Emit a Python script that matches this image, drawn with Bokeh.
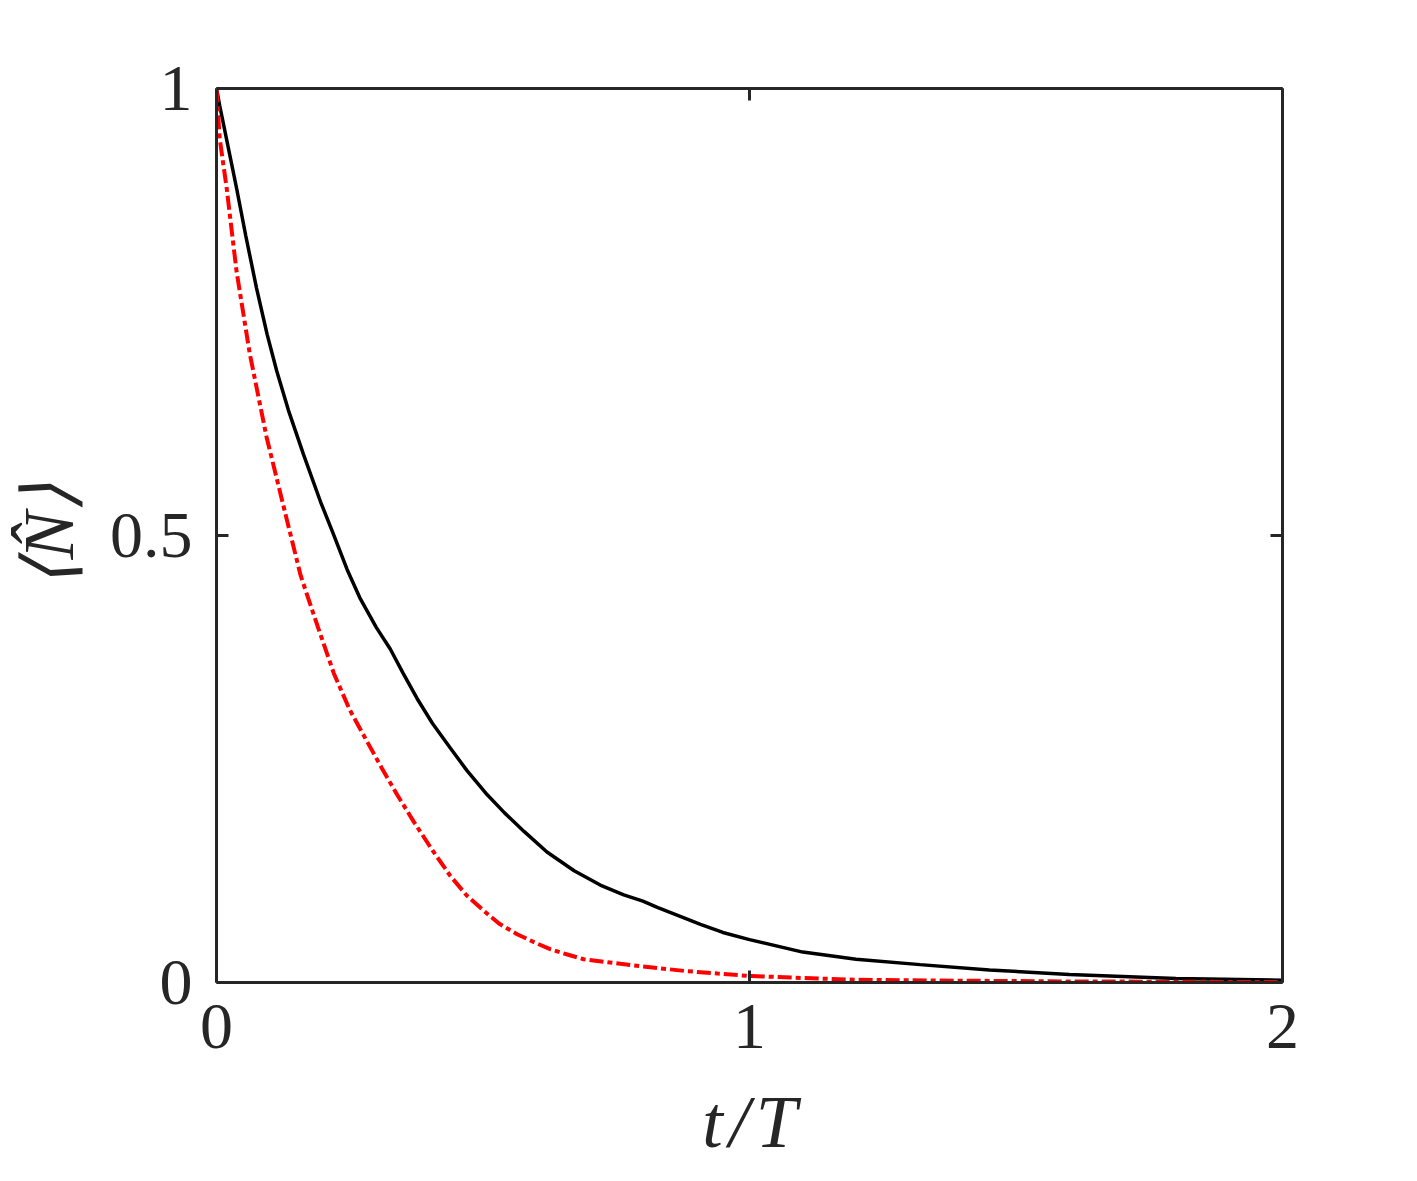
from bokeh.plotting import figure
from bokeh.models import LinearAxis, FixedTicker, Range1d
from bokeh.embed import file_html
from bokeh.resources import INLINE

# ---- data ----
t_black = [0, 0.006, 0.02, 0.0375, 0.055, 0.075, 0.095, 0.113, 0.135, 0.163, 0.195,
           0.219, 0.245, 0.27, 0.3, 0.326, 0.35, 0.376, 0.405, 0.439, 0.47, 0.508,
           0.54, 0.577, 0.62, 0.671, 0.72, 0.764, 0.8, 0.827, 0.87, 0.908, 0.95, 1.0,
           1.1, 1.2, 1.32, 1.45, 1.6, 1.8, 2.0]
n_black = [1, 0.981, 0.940, 0.889, 0.835, 0.777, 0.725, 0.684, 0.64, 0.591, 0.538,
           0.502, 0.462, 0.429, 0.397, 0.373, 0.346, 0.318, 0.29, 0.262, 0.237, 0.210,
           0.19, 0.169, 0.146, 0.125, 0.109, 0.098, 0.091, 0.084, 0.074, 0.065, 0.056,
           0.048, 0.034, 0.026, 0.020, 0.014, 0.009, 0.0045, 0.0026]

t_red = [0, 0.006, 0.019, 0.0375, 0.0625, 0.094, 0.131, 0.158, 0.19, 0.22, 0.25, 0.283,
         0.31, 0.339, 0.37, 0.405, 0.439, 0.47, 0.502, 0.53, 0.564, 0.6, 0.627, 0.66,
         0.689, 0.73, 0.783, 0.83, 0.877, 0.94, 0.995, 1.1, 1.2, 1.4, 1.6, 2.0]
n_red = [1, 0.944, 0.889, 0.796, 0.703, 0.610, 0.52, 0.455, 0.398, 0.346, 0.305, 0.269,
         0.24, 0.21, 0.18, 0.148, 0.119, 0.097, 0.080, 0.066, 0.054, 0.044, 0.037, 0.031,
         0.026, 0.023, 0.019, 0.016, 0.013, 0.010, 0.0075, 0.005, 0.003, 0.002, 0.0012,
         0.0005]

x_ticks = [0, 1, 2]
x_tick_labels = ["0", "1", "2"]
y_ticks = [0, 0.5, 1]
y_tick_labels = ["0", "0.5", "1"]
x_label = "t\u200a/\u200aT"
y_label = "\u27e8N\u0302\u27e9"

AX = "#262626"
FONT = "Liberation Serif"

p = figure(width=1400, height=1165, output_backend="svg", toolbar_location=None,
           x_range=Range1d(0, 2), y_range=Range1d(0, 1),
           min_border_left=216, min_border_right=118, min_border_top=88,
           min_border_bottom=180, x_axis_type=None, y_axis_type=None)
p.outline_line_color = None
p.background_fill_color = "white"
p.border_fill_color = "white"

def style(ax, ticks, labels, show):
    ax.ticker = FixedTicker(ticks=ticks)
    ax.axis_line_color = AX
    ax.axis_line_width = 3
    ax.major_tick_line_color = AX
    ax.major_tick_line_width = 3
    ax.major_tick_in = 12
    ax.major_tick_out = 0
    ax.minor_tick_line_color = None
    ax.major_label_text_font = FONT
    ax.major_label_text_color = AX
    if show:
        ax.major_label_overrides = {float(k): v for k, v in zip(ticks, labels)}
        ax.major_label_text_font_size = "66px"
    else:
        ax.major_label_overrides = {float(k): "" for k in ticks}
        ax.major_label_text_font_size = "0px"
        ax.major_label_standoff = 0

xb = LinearAxis()
style(xb, x_ticks, x_tick_labels, True)
xb.major_label_standoff = 22
xb.axis_label = x_label
xb.axis_label_text_font = FONT
xb.axis_label_text_font_style = "italic"
xb.axis_label_text_font_size = "74px"
xb.axis_label_text_color = AX
xb.axis_label_standoff = 30
p.add_layout(xb, "below")

yl = LinearAxis()
style(yl, y_ticks, y_tick_labels, True)
yl.major_label_standoff = 24
yl.axis_label = y_label
yl.axis_label_text_font = FONT
yl.axis_label_text_font_style = "italic"
yl.axis_label_text_font_size = "72px"
yl.axis_label_text_color = AX
yl.axis_label_standoff = 18
p.add_layout(yl, "left")

xt = LinearAxis()
style(xt, x_ticks, x_tick_labels, False)
p.add_layout(xt, "above")

yr = LinearAxis()
style(yr, y_ticks, y_tick_labels, False)
p.add_layout(yr, "right")

p.line(t_black, n_black, line_color="black", line_width=3.5)
p.line(t_red, n_red, line_color="#ff0000", line_width=4, line_dash="14 4 5 4")

open("out.html", "w").write(file_html(p, INLINE))
